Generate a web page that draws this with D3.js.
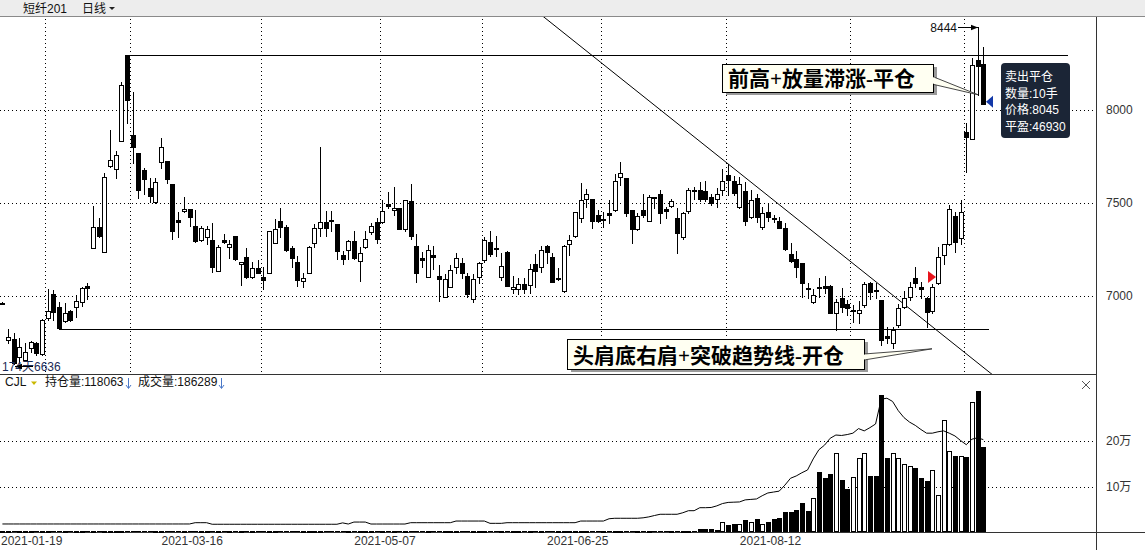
<!DOCTYPE html>
<html><head><meta charset="utf-8">
<script src="https://cdn.jsdelivr.net/npm/d3@7"></script>
<style>
html,body{margin:0;padding:0;background:#fff;}
svg{display:block;}
text{font-family:"Liberation Sans","Noto Sans CJK SC",Arial,sans-serif;}
</style></head><body>
<svg id="c" width="1145" height="550"></svg>
<script>
// ---------- data ----------
const openP  = [6960,6764,6768,6674,6656,6718,6750,6688,6880,7010,6940,6868,6922,6940,6970,7054,7256,7370,7238,7698,7682,7836,8296,7866,7770,7678,7578,7504,7718,7726,7600,7408,7456,7468,7378,7302,7318,7300,7136,7302,7262,7322,7170,7208,7104,7148,7104,7122,7286,7404,7370,7256,7184,7082,7122,7284,7364,7400,7408,7386,7220,7248,7296,7190,7266,7346,7400,7400,7494,7462,7472,7358,7510,7268,7202,7104,7220,7108,6996,7050,7158,7180,7108,6982,7104,7194,7292,7260,7100,7238,7036,7036,7062,7060,7170,7154,7270,7208,7094,7026,7280,7322,7418,7520,7522,7436,7410,7444,7462,7638,7632,7462,7358,7462,7404,7534,7546,7468,7484,7418,7316,7458,7570,7570,7564,7530,7522,7570,7650,7618,7480,7566,7424,7526,7372,7450,7418,7404,7364,7226,7198,7178,7044,6970,7050,7054,7054,6908,6988,6956,6920,6908,6952,7068,7030,6978,6784,6746,6844,6942,6996,7096,7050,6990,6920,7068,7220,7278,7430,7314,7880,7842,8268,8250];
const highP  = [6966,6822,6800,6772,6746,6760,6754,6874,7036,7032,6970,6960,6926,7006,7050,7072,7484,7418,7660,7892,7782,8152,8296,8098,7770,7686,7632,7632,7848,7726,7600,7454,7530,7468,7462,7376,7376,7394,7274,7334,7302,7322,7182,7256,7184,7194,7158,7350,7412,7474,7382,7270,7216,7126,7270,7388,7800,7456,7456,7386,7244,7302,7350,7262,7350,7390,7418,7516,7558,7584,7472,7516,7602,7332,7238,7274,7270,7166,7116,7166,7230,7202,7122,7116,7184,7318,7350,7322,7230,7240,7110,7098,7096,7170,7224,7270,7274,7232,7152,7274,7328,7454,7610,7574,7522,7462,7450,7516,7656,7722,7634,7462,7444,7546,7542,7534,7570,7480,7520,7472,7454,7580,7584,7614,7618,7546,7580,7682,7710,7646,7642,7614,7570,7546,7480,7498,7436,7426,7394,7284,7244,7180,7068,7036,7096,7108,7060,6982,7042,6978,6952,6974,7076,7076,7068,6980,6836,6836,6956,7026,7076,7158,7076,6992,7062,7266,7278,7490,7454,7516,7928,8282,8444,8340];
const lowP   = [6956,6748,6636,6646,6648,6698,6682,6682,6870,6872,6822,6862,6866,6888,6946,6982,7256,7318,7238,7696,7632,7834,7930,7714,7526,7548,7508,7498,7686,7606,7304,7318,7450,7376,7292,7298,7278,7130,7136,7284,7202,7194,7060,7096,7096,7122,7036,7122,7284,7318,7244,7158,7054,7046,7122,7266,7324,7324,7352,7198,7172,7198,7198,7082,7256,7336,7286,7390,7472,7436,7358,7350,7304,7076,7158,7104,7146,6974,6994,7046,7122,7096,6996,6966,7072,7184,7216,7216,7086,7054,7018,7010,7014,7018,7050,7130,7176,7074,7086,7022,7220,7318,7400,7480,7368,7396,7372,7390,7456,7596,7432,7286,7354,7424,7404,7472,7390,7418,7476,7232,7304,7448,7520,7510,7512,7490,7476,7542,7542,7542,7474,7382,7418,7396,7358,7404,7400,7364,7250,7184,7100,6994,6988,6960,6996,7014,6906,6818,6916,6896,6862,6854,6942,6984,6988,6736,6746,6718,6836,6934,6978,7050,6990,6836,6908,7062,7170,7274,7238,7278,7664,7842,8082,8030];
const closeP = [6962,6778,6640,6728,6698,6752,6692,6870,6920,6916,6826,6908,6872,6974,7042,7044,7370,7324,7638,7732,7758,8134,8054,7802,7570,7630,7540,7612,7800,7630,7352,7400,7468,7424,7296,7368,7358,7158,7264,7292,7280,7198,7182,7104,7148,7126,7086,7350,7360,7372,7248,7202,7086,7098,7264,7364,7396,7368,7406,7244,7200,7296,7202,7232,7304,7378,7304,7458,7484,7474,7358,7516,7322,7126,7196,7250,7208,7090,7092,7140,7202,7126,7010,7090,7180,7300,7224,7254,7162,7056,7046,7062,7036,7144,7136,7250,7238,7074,7098,7270,7300,7450,7516,7546,7404,7404,7414,7436,7618,7660,7444,7358,7432,7436,7530,7530,7444,7458,7510,7340,7444,7570,7564,7522,7522,7502,7546,7618,7624,7556,7600,7404,7516,7424,7448,7424,7414,7368,7252,7190,7158,7068,7036,7008,7046,7042,6908,6970,6942,6934,6926,6924,7062,7024,7028,6764,6776,6818,6934,6990,7050,7068,7036,6912,7050,7210,7278,7466,7292,7450,7854,8242,8238,8032];
const volume = [1800,2200,2600,1500,1400,1200,1300,2500,2200,1900,2000,1500,1300,1600,1800,1400,3200,2100,3500,3000,2400,3300,4200,3600,2800,2200,2000,1800,2300,2100,2700,1900,1600,1500,2000,1400,1300,2200,1700,1200,1400,1600,1500,1700,1300,1200,1500,2100,1800,1600,1700,1500,1800,1400,1900,1700,2600,1500,1300,1800,1400,1500,1700,1600,1500,1300,1600,1800,1500,1700,1600,1900,2200,2400,1500,1900,1400,1700,2000,1600,1500,1400,1800,1900,1600,2000,1700,1400,1800,2100,1600,1500,1600,1800,1700,2000,1600,1900,1500,2600,2000,2400,2900,2300,2500,2000,1900,2300,3200,2800,3000,3100,2600,2800,3000,4500,3000,2800,2600,4300,4500,4800,4000,9300,9400,9200,7000,23000,17000,20000,19000,28000,23000,30000,19000,25000,30000,33000,45000,45000,49000,65000,47000,77000,132000,119000,128000,175000,115000,95000,121000,162000,173000,125000,123000,299000,164000,175000,162000,149000,146000,142000,120000,112000,136000,83000,245000,178000,167000,167000,165000,284000,308000,186289];
const holdLine = [19600,19600,19600,19600,19600,19600,19600,19600,19600,19600,19600,19600,19600,19600,19600,19600,19600,19600,19600,19600,19600,19600,19600,19600,19600,19600,19600,19600,19600,19600,19600,19600,19600,19600,22400,22400,22400,19000,19000,19000,19000,19000,19000,19000,19000,19000,19000,19000,19000,19000,19000,19000,19000,19000,19000,19000,19000,19000,19000,19000,22000,19500,23800,23800,23800,19500,19500,19500,19500,19500,19500,19500,22400,22400,22400,22400,22400,22400,22400,22400,26000,26000,26000,26000,26000,26000,21000,21000,21000,22400,22400,22400,22400,22400,22400,22400,22400,22400,22400,22400,22400,22400,26000,26000,26000,26000,26000,31000,32000,32000,32000,32000,32000,33000,35000,38000,40700,40700,40700,40700,44000,48500,48500,55000,55000,55500,59000,64000,66500,67000,67500,72000,73000,74000,81000,87000,89000,91000,104000,119000,124000,131000,137000,161000,181000,191000,206000,213000,212000,214000,217000,227000,222000,229000,237000,291000,293000,286000,266000,251000,241000,234000,225000,217000,217000,220000,222000,217000,211000,201000,192000,204000,207000,203000];

const monthStartIdx = [8,23,46,67,85,106,128,150,170];
const dateTickIdx   = [-1,34,68,102,136];
const dateTickLabel = ["2021-01-19","2021-03-16","2021-05-07","2021-06-25","2021-08-12"];
const priceTicks = [7000,7500,8000];
const volTicks = [100000,200000];

const upperLine = {from:22, to:188, price:8296};
const lowerLine = {from:10, to:174, price:6824};
const trendPts  = [[95,8512],[174,6592]];
const lowMark   = {idx:2, price:6636, text:"174天6636"};
const highMark  = {idx:172, price:8444, text:"8444"};
const buyMark   = {idx:165, price:7102};
const sellMark  = {idx:173, price:8045};
const tipLines  = ["卖出平仓","数量:10手","价格:8045","平盈:46930"];
const note1 = {text:"前高+放量滞涨-平仓", idx:172, price:8082};
const note2 = {text:"头肩底右肩+突破趋势线-开仓", idx:164, price:6716};

// ---------- layout ----------
const W = 1145, H = 550;
const plotRight = 1096, mainTop = 17, mainBot = 374, volBot = 532;
const svg = d3.select("#c");

const x  = d3.scaleLinear().domain([0,173]).range([2.4, 983.3]);
const y  = d3.scaleLinear().domain([7000,8000]).range([296,110]);
const yv = d3.scaleLinear().domain([0,200000]).range([533,441]);
const px = i => Math.round(x(i));
const cr = v => Math.round(v)+0.5;

// header bar
svg.append("rect").attr("x",0).attr("y",0).attr("width",W).attr("height",16).attr("fill","#ededed");
svg.append("line").attr("x1",0).attr("x2",W).attr("y1",16.5).attr("y2",16.5).attr("stroke","#8a8a8a");
svg.append("text").attr("x",23).attr("y",13).attr("font-size",12).attr("fill","#111").text("短纤201");
svg.append("text").attr("x",82).attr("y",13).attr("font-size",12).attr("fill","#111").text("日线");
svg.append("path").attr("d","M109,7 L115,7 L112,10 Z").attr("fill","#222");

// grid
const grid = svg.append("g").attr("stroke","#000").attr("stroke-dasharray","1,3").attr("shape-rendering","crispEdges");
priceTicks.forEach(p=>{
  grid.append("line").attr("x1",0).attr("x2",plotRight-2).attr("y1",cr(y(p))).attr("y2",cr(y(p)));
});
monthStartIdx.forEach(i=>{
  const gx = cr(x(i-0.45));
  grid.append("line").attr("x1",gx).attr("x2",gx).attr("y1",mainTop+2).attr("y2",mainBot);
});
volTicks.forEach(v=>{
  grid.append("line").attr("x1",0).attr("x2",plotRight-2).attr("y1",cr(yv(v))).attr("y2",cr(yv(v)));
});

// frames
const fr = svg.append("g").attr("stroke","#333").attr("shape-rendering","crispEdges");
fr.append("line").attr("x1",0).attr("x2",plotRight).attr("y1",mainBot+0.5).attr("y2",mainBot+0.5);
fr.append("line").attr("x1",0).attr("x2",W).attr("y1",volBot+0.5).attr("y2",volBot+0.5);
fr.append("line").attr("x1",plotRight+0.5).attr("x2",plotRight+0.5).attr("y1",17).attr("y2",H);

// right axes
const ax = svg.append("g").attr("transform",`translate(${plotRight+4},0)`)
  .call(d3.axisRight(y).tickValues(priceTicks).tickSize(0).tickPadding(6).tickFormat(d3.format("d")));
ax.select(".domain").remove();
ax.selectAll("text").attr("font-size",12).attr("fill","#333").attr("font-family","Liberation Sans, Arial");
const axv = svg.append("g").attr("transform",`translate(${plotRight+4},0)`)
  .call(d3.axisRight(yv).tickValues(volTicks).tickSize(0).tickPadding(6).tickFormat(d=>(d/10000)+"万"));
axv.select(".domain").remove();
axv.selectAll("text").attr("font-size",12).attr("fill","#333");

// date labels
dateTickIdx.forEach((i,k)=>{
  const t = svg.append("text").attr("y",545).attr("font-size",12).attr("fill","#333").text(dateTickLabel[k]);
  const cx = x(i)-3;
  if (cx < 32) t.attr("x",1).attr("text-anchor","start");
  else t.attr("x",cx).attr("text-anchor","middle");
});

// clip for main panel
svg.append("clipPath").attr("id","mainClip").append("rect")
  .attr("x",0).attr("y",mainTop).attr("width",plotRight).attr("height",mainBot-mainTop);

// horizontal annotation lines
const ann = svg.append("g").attr("stroke","#000").attr("shape-rendering","crispEdges");
[upperLine, lowerLine].forEach(l=>{
  ann.append("line").attr("x1",px(l.from)).attr("x2",px(l.to))
    .attr("y1",cr(y(l.price))).attr("y2",cr(y(l.price))).attr("stroke-width",1.3);
});
// trend line
const slope = (trendPts[1][1]-trendPts[0][1])/(trendPts[1][0]-trendPts[0][0]);
const tp = i => trendPts[0][1] + (i-trendPts[0][0])*slope;
svg.append("line").attr("clip-path","url(#mainClip)").attr("stroke","#000").attr("stroke-width",1)
  .attr("x1",x(85)).attr("y1",y(tp(85))).attr("x2",x(185)).attr("y2",y(tp(185)));

// candles
const n = openP.length;
const data = d3.range(n).map(i=>({i,o:openP[i],h:highP[i],l:lowP[i],c:closeP[i],v:volume[i]}));
const cg = svg.append("g").attr("clip-path","url(#mainClip)").attr("shape-rendering","crispEdges");
data.forEach(d=>{
  const cx = px(d.i);
  const up = d.c >= d.o;
  cg.append("line").attr("x1",cx+0.5).attr("x2",cx+0.5)
    .attr("y1",Math.round(y(d.h))).attr("y2",Math.round(y(d.l))+1).attr("stroke","#000");
  const top = Math.round(y(Math.max(d.o,d.c)));
  const bot = Math.round(y(Math.min(d.o,d.c)));
  if (up) {
    cg.append("rect").attr("x",cx-1.5).attr("y",top+0.5).attr("width",4).attr("height",Math.max(bot-top,1))
      .attr("fill","#fff").attr("stroke","#000");
  } else {
    cg.append("rect").attr("x",cx-2).attr("y",top).attr("width",5).attr("height",Math.max(bot-top,1)+1)
      .attr("fill","#000");
  }
});

// volume bars
const vg = svg.append("g").attr("shape-rendering","crispEdges");
data.forEach(d=>{
  const cx = px(d.i);
  const up = d.c >= d.o;
  const top = Math.round(yv(d.v));
  const h = Math.max(volBot - top, 1);
  if (up) {
    vg.append("rect").attr("x",cx-1.5).attr("y",volBot-h+0.5).attr("width",4).attr("height",Math.max(h-1,0.5))
      .attr("fill","#fff").attr("stroke","#000");
  } else {
    vg.append("rect").attr("x",cx-2).attr("y",volBot-h).attr("width",5).attr("height",h).attr("fill","#000");
  }
});
// hold line
svg.append("path").datum(holdLine)
  .attr("d", d3.line().x((v,i)=>x(i)).y(v=>yv(v)))
  .attr("fill","none").attr("stroke","#000").attr("stroke-width",1);

// volume panel header
function downArrow(ax0){
  svg.append("path").attr("d",`M${ax0+0.5},378 L${ax0+0.5},388 M${ax0-2},385 L${ax0+0.5},388.5 L${ax0+3},385`)
    .attr("stroke","#4a78c8").attr("fill","none").attr("stroke-width",1);
}
svg.append("text").attr("x",5).attr("y",386).attr("font-size",12).attr("fill","#111").text("CJL");
svg.append("path").attr("d","M31,381.5 L37,381.5 L34,385 Z").attr("fill","#c9b800");
svg.append("text").attr("x",45).attr("y",386).attr("font-size",12).attr("fill","#111").text("持仓量:118063");
downArrow(128);
svg.append("text").attr("x",138).attr("y",386).attr("font-size",12).attr("fill","#111").text("成交量:186289");
downArrow(221);
svg.append("path").attr("d","M1082,381 L1090,389 M1090,381 L1082,389").attr("stroke","#555").attr("stroke-width",1);

// arrow marker
const defs = svg.append("defs");
defs.append("marker").attr("id","ah").attr("viewBox","0 0 10 10").attr("refX",10).attr("refY",5)
  .attr("markerWidth",7).attr("markerHeight",7).attr("markerUnits","userSpaceOnUse").attr("orient","auto")
  .append("path").attr("d","M0,1 L10,5 L0,9 Z").attr("fill","#000");

// high mark
const hx = px(highMark.idx), hy = y(highMark.price);
svg.append("text").attr("x",hx-21).attr("y",hy+4.5).attr("text-anchor","end").attr("font-size",12).attr("fill","#111").text(highMark.text);
svg.append("line").attr("x1",hx-20).attr("x2",hx).attr("y1",cr(hy)).attr("y2",cr(hy)).attr("stroke","#000").attr("marker-end","url(#ah)");
// low mark
const lx = px(lowMark.idx), ly = 366;
svg.append("text").attr("x",2).attr("y",ly+4.5).attr("font-size",12).attr("fill","#1a2a55").text(lowMark.text);
svg.append("line").attr("x1",33).attr("x2",lx+1).attr("y1",ly+0.5).attr("y2",ly+0.5).attr("stroke","#000").attr("marker-end","url(#ah)");

// buy / sell markers
const bx = px(buyMark.idx)-2, by = y(buyMark.price);
svg.append("path").attr("d",`M${bx},${by} L${bx-8},${by-6} L${bx-8},${by+6} Z`).attr("fill","#e8141c");
const sx = px(sellMark.idx)+3, sy = y(sellMark.price);
svg.append("path").attr("d",`M${sx},${sy} L${sx+7},${sy-6} L${sx+7},${sy+6} Z`).attr("fill","#1238a8");

// tooltip
const tipX = px(sellMark.idx)+18, tipY = 63;
svg.append("rect").attr("x",tipX).attr("y",tipY).attr("width",69).attr("height",75).attr("rx",4)
  .attr("fill","#1b2536");
tipLines.forEach((t,k)=>{
  svg.append("text").attr("x",tipX+4).attr("y",tipY+18+k*16.5).attr("font-size",12).attr("fill","#fff").text(t);
});

// callout boxes
function callout(note, bx0, by0, bw, bh, wy1, wy2, tsize){
  const g = svg.append("g");
  const tx = px(note.idx), ty = y(note.price);
  g.append("rect").attr("x",bx0+4).attr("y",by0+3).attr("width",bw).attr("height",bh).attr("fill","#9a9a9a");
  g.append("path").attr("d",`M${bx0+bw},${wy1} L${tx},${ty} L${bx0+bw},${wy2} Z`)
    .attr("fill","#fffff2").attr("stroke","#333").attr("stroke-width",0.9);
  g.append("rect").attr("x",bx0+0.5).attr("y",by0+0.5).attr("width",bw).attr("height",bh)
    .attr("fill","#fffff2").attr("stroke","#000").attr("shape-rendering","crispEdges");
  g.append("rect").attr("x",bx0+bw-0.5).attr("y",wy1+0.6).attr("width",2).attr("height",wy2-wy1-1.2).attr("fill","#fffff2");
  g.append("text").attr("x",bx0+6).attr("y",by0+bh-6).attr("font-size",tsize).attr("font-weight","bold")
    .attr("fill","#000").attr("style",'font-family:"Liberation Serif","Noto Sans CJK SC",serif')
    .text(note.text);
}
callout(note1, 722, 64, 211, 28, 76.7, 84.3, 21);
callout(note2, 567, 339, 297, 30, 354, 360, 21);
</script>
</body></html>
